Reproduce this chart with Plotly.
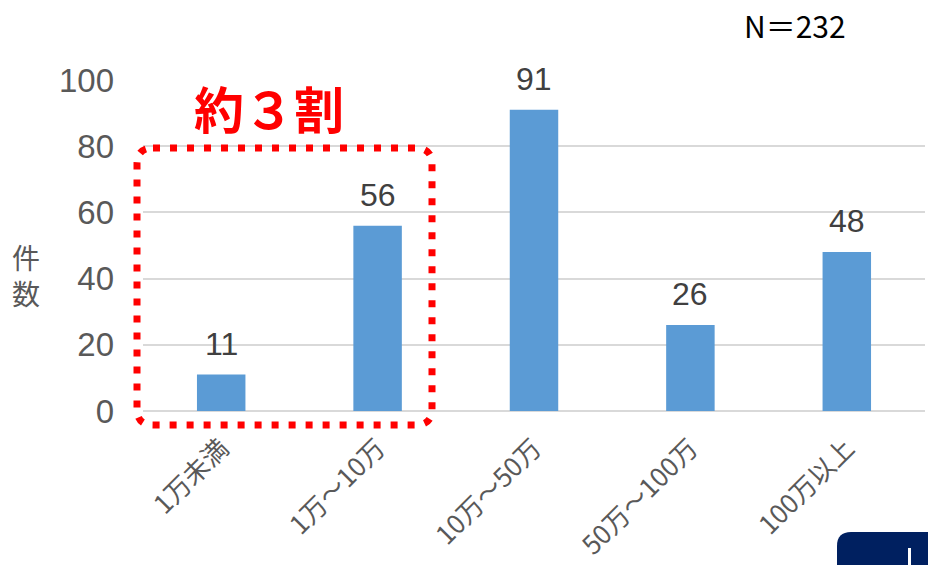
import plotly.graph_objects as go

categories = ["1万未満", "1万～10万", "10万～50万", "50万～100万", "100万以上"]
counts = [11, 56, 91, 26, 48]
y_ticks = [0, 20, 40, 60, 80, 100]

W, H = 928, 565
L, R, T, B = 143, 3, 80, 154
pw, ph = W - L - R, H - T - B

def px(x):
    return (x - L) / pw

def py(y):
    return (H - B - y) / ph

fig = go.Figure()
fig.add_trace(go.Bar(
    x=categories, y=counts, marker=dict(color="#5b9bd5", line=dict(width=0)),
    width=0.31, hoverinfo="skip",
))

for c, v in zip(categories, counts):
    fig.add_annotation(x=c, y=v, text=str(v), showarrow=False, yanchor="bottom",
                       xanchor="center", yshift=11,
                       font=dict(size=32, color="#404040", family="Liberation Sans, Arial"))

# red dotted rounded rectangle
x0, x1, y0, y1 = 137, 432, 148, 425
r = 16
path = (f"M {px(x0+r)},{py(y0)} L {px(x1-r)},{py(y0)} Q {px(x1)},{py(y0)} {px(x1)},{py(y0+r)} "
        f"L {px(x1)},{py(y1-r)} Q {px(x1)},{py(y1)} {px(x1-r)},{py(y1)} "
        f"L {px(x0+r)},{py(y1)} Q {px(x0)},{py(y1)} {px(x0)},{py(y1-r)} "
        f"L {px(x0)},{py(y0+r)} Q {px(x0)},{py(y0)} {px(x0+r)},{py(y0)} Z")
fig.add_shape(type="path", path=path, xref="paper", yref="paper",
              line=dict(color="#ff0000", width=7, dash="7px,10px"))

# navy box bottom right
bx0, by0 = 837, 532
rr = 14
bpath = (f"M {px(bx0)},{py(H+5)} L {px(bx0)},{py(by0+rr)} Q {px(bx0)},{py(by0)} {px(bx0+rr)},{py(by0)} "
         f"L {px(W+5)},{py(by0)} L {px(W+5)},{py(H+5)} Z")
fig.add_shape(type="path", path=bpath, xref="paper", yref="paper",
              fillcolor="#002060", line=dict(width=0))
fig.add_shape(type="line", xref="paper", yref="paper",
              x0=px(909.5), x1=px(909.5), y0=py(548), y1=py(566),
              line=dict(color="white", width=3))

fig.add_annotation(xref="paper", yref="paper", x=px(269), y=py(107),
                   xanchor="center", yanchor="middle",
                   text="<b>約３割</b>", showarrow=False,
                   font=dict(size=50, color="#ff0000", family="Noto Sans CJK JP"))
fig.add_annotation(xref="paper", yref="paper", x=px(795), y=py(25),
                   xanchor="center", yanchor="middle",
                   text="N＝232", showarrow=False,
                   font=dict(size=30, color="#000000", family="Noto Sans CJK JP"))
fig.add_annotation(xref="paper", yref="paper", x=px(26), y=py(275),
                   xanchor="center", yanchor="middle",
                   text="件<br>数", showarrow=False,
                   font=dict(size=28, color="#595959", family="Noto Sans CJK JP"))

fig.update_layout(
    width=W, height=H, margin=dict(l=L, r=R, t=T, b=B),
    paper_bgcolor="white", plot_bgcolor="white", showlegend=False,
    xaxis=dict(tickangle=-45, tickfont=dict(size=26, color="#595959", family="Noto Sans CJK JP"),
               showline=False, ticks="", ticklabelstandoff=16),
    yaxis=dict(range=[0, 100], tickvals=y_ticks, showgrid=True, gridcolor="#d9d9d9",
               gridwidth=1.5, zeroline=True, zerolinecolor="#d9d9d9", zerolinewidth=1.5,
               tickfont=dict(size=33, color="#595959", family="Liberation Sans, Arial"),
               ticks="", ticklabelstandoff=28),
)
fig.write_html("out.html")
